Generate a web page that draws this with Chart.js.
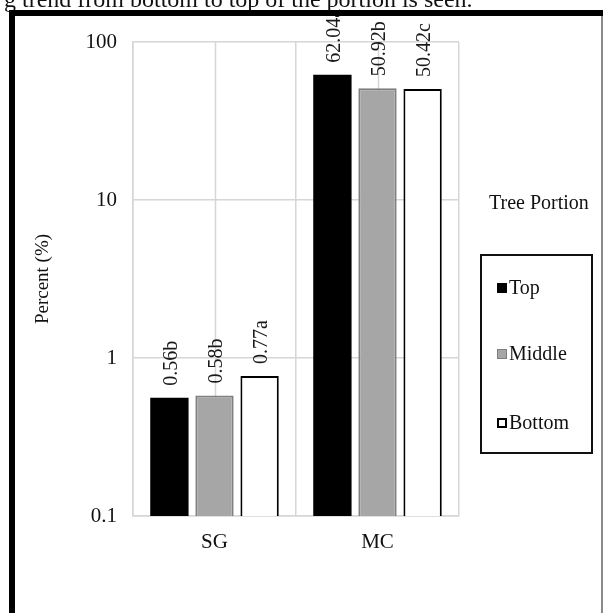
<!DOCTYPE html>
<html>
<head>
<meta charset="utf-8">
<script src="https://cdn.jsdelivr.net/npm/chart.js@4/dist/chart.umd.min.js"></script>
<style>
  html, body { margin: 0; padding: 0; background: #fff; }
  #wrap { position: relative; width: 603px; height: 613px; overflow: hidden; font-family: "Liberation Serif", "Times New Roman", serif; color: #111; }
  #c { position: absolute; left: 0; top: 0; }
  .ov { position: absolute; }
  #sentence { left: 4px; top: -13px; font-size: 24px; white-space: nowrap; line-height: 24px; }
  #bTop { left: 9px; top: 10px; width: 594px; height: 6px; background: #000; }
  #bLeft { left: 9px; top: 10px; width: 6px; height: 603px; background: #000; }
  #bRight { left: 601px; top: 16px; width: 2px; height: 597px; background: #8a8a8a; }
  #legTitle { left: 489px; top: 190px; font-size: 20px; line-height: 24px; white-space: nowrap; }
  #legBox { left: 480px; top: 254px; width: 109px; height: 196px; border: 2px solid #111; background: #fff; }
  .item { position: absolute; left: 15px; font-size: 20px; line-height: 24px; white-space: nowrap; }
  .sw { display: inline-block; width: 10px; height: 10px; margin-right: 2px; vertical-align: 1px; box-sizing: border-box; }
</style>
</head>
<body>
<div id="wrap">
  <canvas id="c" width="603" height="613"></canvas>
  <div class="ov" id="sentence">g trend from bottom to top of the portion is seen.</div>
  <div class="ov" id="bTop"></div>
  <div class="ov" id="bLeft"></div>
  <div class="ov" id="bRight"></div>
  <div class="ov" id="legTitle">Tree Portion</div>
  <div class="ov" id="legBox"></div>
</div>
<script>
// ---- data ----
const categories = ['SG', 'MC'];
const seriesNames = ['Top', 'Middle', 'Bottom'];
const topValues = [0.56, 62.04];
const middleValues = [0.58, 50.92];
const bottomValues = [0.77, 50.42];
const topLetters = ['b', 'a'];
const middleLetters = ['b', 'b'];
const bottomLetters = ['a', 'c'];
const yTickValues = [0.1, 1, 10, 100];
const yTickLabels = ['0.1', '1', '10', '100'];
const yTitle = 'Percent (%)';

const FONT = '"Liberation Serif", "Times New Roman", serif';
const fills = ['#000000', '#a6a6a6', '#ffffff'];
const borders = ['#000000', '#7f7f7f', '#000000'];
const letters = [topLetters, middleLetters, bottomLetters];
const values = [topValues, middleValues, bottomValues];

// HTML legend built from series names
const legBox = document.getElementById('legBox');
const itemTops = [19, 85, 154];
seriesNames.forEach((n, i) => {
  const d = document.createElement('div');
  d.className = 'item';
  d.style.top = itemTops[i] + 'px';
  const s = document.createElement('span');
  s.className = 'sw';
  s.style.background = fills[i];
  s.style.border = (i === 2 ? '2px solid #000' : (i === 1 ? '1px solid #7f7f7f' : '1px solid #000'));
  d.appendChild(s);
  d.appendChild(document.createTextNode(n));
  legBox.appendChild(d);
});

const gridColor = '#d6d6d6';

const centerLines = {
  id: 'centerLines',
  beforeDatasetsDraw(chart) {
    const {ctx, chartArea} = chart;
    const x = chart.scales.x;
    ctx.save();
    ctx.strokeStyle = gridColor;
    ctx.lineWidth = 1.5;
    categories.forEach((c, i) => {
      const px = Math.round(x.getPixelForValue(i)) + 0.5;
      ctx.beginPath();
      ctx.moveTo(px, chartArea.top);
      ctx.lineTo(px, chartArea.bottom);
      ctx.stroke();
    });
    ctx.restore();
  }
};

const valueLabels = {
  id: 'valueLabels',
  afterDatasetsDraw(chart) {
    const {ctx} = chart;
    ctx.save();
    ctx.font = '20px ' + FONT;
    ctx.fillStyle = '#1a1a1a';
    chart.data.datasets.forEach((ds, i) => {
      const meta = chart.getDatasetMeta(i);
      meta.data.forEach((bar, j) => {
        const txt = values[i][j].toFixed(2) + letters[i][j];
        ctx.save();
        ctx.translate(bar.x + 2, bar.y - 12);
        ctx.rotate(-Math.PI / 2);
        ctx.textAlign = 'left';
        ctx.textBaseline = 'middle';
        ctx.fillText(txt, 0, 0);
        ctx.restore();
      });
    });
    ctx.restore();
  }
};

new Chart(document.getElementById('c'), {
  type: 'bar',
  data: {
    labels: categories,
    datasets: seriesNames.map((n, i) => ({
      label: n,
      data: values[i],
      backgroundColor: fills[i],
      borderColor: borders[i],
      borderWidth: i === 0 ? 0 : 2,
      borderSkipped: 'bottom',
      categoryPercentage: 0.83,
      barPercentage: 0.85
    }))
  },
  options: {
    responsive: false,
    animation: false,
    devicePixelRatio: 1,
    layout: { padding: { left: 0, top: 42, right: 144, bottom: 0 } },
    plugins: { legend: { display: false }, tooltip: { enabled: false } },
    scales: {
      x: {
        type: 'category',
        grid: { offset: true, color: gridColor, lineWidth: 1.5, drawTicks: false },
        border: { display: true, color: gridColor, width: 1.5 },
        ticks: { color: '#111', font: { family: FONT, size: 21 }, padding: 14 },
        afterFit(s) { s.height = 97; }
      },
      y: {
        type: 'logarithmic',
        min: 0.1,
        max: 100,
        afterBuildTicks(s) { s.ticks = yTickValues.map(v => ({ value: v })); },
        ticks: {
          color: '#111',
          font: { family: FONT, size: 21 },
          padding: 16,
          callback: (v) => { const k = yTickValues.indexOf(v); return k >= 0 ? yTickLabels[k] : ''; }
        },
        grid: { color: gridColor, lineWidth: 1.5, drawTicks: false },
        border: { display: true, color: gridColor, width: 1.5 },
        title: { display: true, text: yTitle, color: '#111', font: { family: FONT, size: 19 }, padding: { top: 32, bottom: 0 } },
        afterFit(s) { s.width = 133; }
      }
    }
  },
  plugins: [centerLines, valueLabels]
});
</script>
</body>
</html>
